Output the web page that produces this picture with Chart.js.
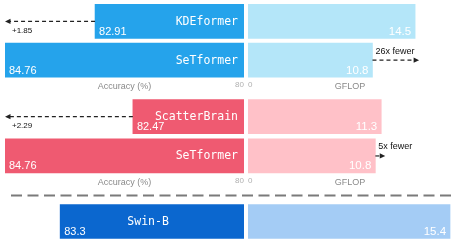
<!DOCTYPE html>
<html><head><meta charset="utf-8">
<script src="https://cdn.jsdelivr.net/npm/chart.js@4/dist/chart.umd.min.js"></script>
<style>
html,body{margin:0;padding:0;background:#fff;}
#wrap{position:relative;width:453px;height:242px;overflow:hidden;background:#fff;}
#wrap canvas{position:absolute;}
</style></head><body>
<div id="wrap">
<svg style="position:absolute;left:0;top:0" width="453" height="242"><line x1="11" y1="195.5" x2="453" y2="195.5" stroke="#7a7a7a" stroke-width="2" stroke-dasharray="11 5.5"/></svg>
</div>
<script>
// ---- data ----
const panel1Models = ['KDEformer', 'SeTformer'];
const panel1Accuracy = [82.91, 84.76];
const panel1Gflop = [14.5, 10.8];
const panel1Note = '26x fewer';

const panel2Models = ['ScatterBrain', 'SeTformer'];
const panel2Accuracy = [82.47, 84.76];
const panel2Gflop = [11.3, 10.8];
const panel2Note = '5x fewer';

const panel3Models = ['Swin-B'];
const panel3Accuracy = [83.3];
const panel3Gflop = [15.4];

const accuracyTitle = 'Accuracy (%)';
const gflopTitle = 'GFLOP';

// ---- drawing ----
const wrap = document.getElementById('wrap');
const SANS = '"Liberation Sans", Arial, sans-serif';
const MONO = '"DejaVu Sans Mono", monospace';

function drawArrow(ctx, x1, x2, y) {
  const dir = Math.sign(x2 - x1) || 1;
  ctx.save();
  ctx.strokeStyle = '#222';
  ctx.lineWidth = 1.2;
  ctx.setLineDash([4, 3]);
  ctx.beginPath();
  ctx.moveTo(x1, y);
  ctx.lineTo(x2 - dir * 4, y);
  ctx.stroke();
  ctx.setLineDash([]);
  ctx.fillStyle = '#222';
  ctx.beginPath();
  ctx.moveTo(x2, y);
  ctx.lineTo(x2 - dir * 5.5, y - 2.6);
  ctx.lineTo(x2 - dir * 5.5, y + 2.6);
  ctx.closePath();
  ctx.fill();
  ctx.restore();
}

const barText = {
  id: 'barText',
  afterDatasetsDraw(chart, args, o) {
    const ctx = chart.ctx;
    const area = chart.chartArea;
    const meta = chart.getDatasetMeta(0);
    const vals = chart.data.datasets[0].data;
    const names = chart.data.labels;
    ctx.save();
    meta.data.forEach((bar, i) => {
      const l = Math.max(Math.min(bar.x, bar.base), area.left);
      const r = Math.min(Math.max(bar.x, bar.base), area.right);
      const bot = bar.y + bar.height / 2;
      ctx.fillStyle = '#fff';
      if (o.side === 'left') {
        ctx.font = '11px ' + SANS;
        ctx.textAlign = 'left';
        ctx.textBaseline = 'alphabetic';
        ctx.fillText(String(vals[i]), l + 4, bot - 3.5);
        ctx.font = '11.5px ' + MONO;
        ctx.textBaseline = 'middle';
        if (o.nameAlign === 'center') {
          ctx.textAlign = 'center';
          ctx.fillText(names[i], (l + r) / 2 - 4, bar.y + 0.5);
        } else {
          ctx.textAlign = 'right';
          ctx.fillText(names[i], r - 6, bar.y + 0.5);
        }
      } else {
        ctx.font = '11.5px ' + SANS;
        ctx.textAlign = 'right';
        ctx.textBaseline = 'alphabetic';
        ctx.fillText(String(vals[i]), r - 4, bot - 3.5);
      }
    });
    if (o.arrow && meta.data.length > 1) {
      const a = meta.data[0], b = meta.data[1];
      if (o.side === 'left') {
        drawArrow(ctx, a.x, b.x, a.y);
        ctx.fillStyle = '#111';
        ctx.font = '8px ' + SANS;
        ctx.textAlign = 'left';
        ctx.textBaseline = 'middle';
        ctx.fillText('+' + (vals[1] - vals[0]).toFixed(2), b.x + 7, a.y + 9);
      } else {
        drawArrow(ctx, b.x, a.x + 4, b.y);
        ctx.fillStyle = '#111';
        ctx.font = '9px ' + SANS;
        ctx.textAlign = 'left';
        ctx.textBaseline = 'middle';
        ctx.fillText(o.note, b.x + 3, b.y - 9);
      }
    }
    ctx.restore();
  }
};

function makeChart(cfg) {
  const c = document.createElement('canvas');
  c.width = cfg.w; c.height = cfg.h;
  c.style.left = cfg.left + 'px'; c.style.top = cfg.top + 'px';
  c.style.width = cfg.w + 'px'; c.style.height = cfg.h + 'px';
  wrap.appendChild(c);
  return new Chart(c, {
    type: 'bar',
    data: {
      labels: cfg.labels,
      datasets: [{ data: cfg.values, backgroundColor: cfg.color, borderWidth: 0, barThickness: 34 }]
    },
    options: {
      indexAxis: 'y',
      responsive: false,
      animation: false,
      devicePixelRatio: 1,
      layout: { padding: cfg.pad },
      plugins: {
        legend: { display: false },
        tooltip: { enabled: false },
        barText: { side: cfg.side, arrow: cfg.arrow, note: cfg.note || '', nameAlign: cfg.nameAlign || 'right' }
      },
      scales: {
        y: { display: false, offset: true },
        x: {
          display: cfg.showAxis,
          reverse: cfg.side === 'left',
          min: cfg.min, max: cfg.max,
          grid: { display: false, drawTicks: false },
          border: { display: false },
          afterBuildTicks: ax => { ax.ticks = [{ value: ax.min }]; },
          ticks: {
            padding: 0, autoSkip: false, maxRotation: 0,
            align: cfg.side === 'left' ? 'end' : 'start',
            color: '#b0b0b0',
            font: { family: SANS, size: 8 },
            callback: v => Math.round(v)
          },
          title: {
            display: true, text: cfg.title, color: '#8a8a8a',
            font: { family: SANS, size: 9 },
            padding: { top: -8, bottom: 0 }
          }
        }
      }
    },
    plugins: [barText]
  });
}

const L = { left: 0, w: 245 };
const R = { left: 247, w: 206 };

// Panel 1: KDEformer vs SeTformer
makeChart({ left: L.left, w: L.w, top: 0, h: 92, pad: { left: 5, right: 1, top: 2, bottom: 0 },
  labels: panel1Models, values: panel1Accuracy, color: '#25a3eb', side: 'left', arrow: true,
  min: 79.85, max: 84.76, showAxis: true, title: accuracyTitle });
makeChart({ left: R.left, w: R.w, top: 0, h: 92, pad: { left: 1, right: 1, top: 2, bottom: 0 },
  labels: panel1Models, values: panel1Gflop, color: '#b4e6f9', side: 'right', arrow: true, note: panel1Note,
  min: 0, max: 17.7, showAxis: true, title: gflopTitle });

// Panel 2: ScatterBrain vs SeTformer
makeChart({ left: L.left, w: L.w, top: 95, h: 93, pad: { left: 5, right: 1, top: 2, bottom: 0 },
  labels: panel2Models, values: panel2Accuracy, color: '#ef5a71', side: 'left', arrow: true,
  min: 80.48, max: 84.76, showAxis: true, title: accuracyTitle });
makeChart({ left: R.left, w: R.w, top: 95, h: 93, pad: { left: 1, right: 1, top: 2, bottom: 0 },
  labels: panel2Models, values: panel2Gflop, color: '#ffc1c8', side: 'right', arrow: true, note: panel2Note,
  min: 0, max: 17.3, showAxis: true, title: gflopTitle });

// Panel 3: Swin-B
makeChart({ left: L.left, w: L.w, top: 200, h: 42, pad: { left: 5, right: 1, top: 2, bottom: 1 },
  labels: panel3Models, values: panel3Accuracy, color: '#0b67cf', side: 'left', arrow: false, nameAlign: 'center',
  min: 80, max: 84.29, showAxis: false, title: accuracyTitle });
makeChart({ left: R.left, w: R.w, top: 200, h: 42, pad: { left: 1, right: 1, top: 2, bottom: 1 },
  labels: panel3Models, values: panel3Gflop, color: '#a4ccf5', side: 'right', arrow: false,
  min: 0, max: 15.55, showAxis: false, title: gflopTitle });
</script>
</body></html>
